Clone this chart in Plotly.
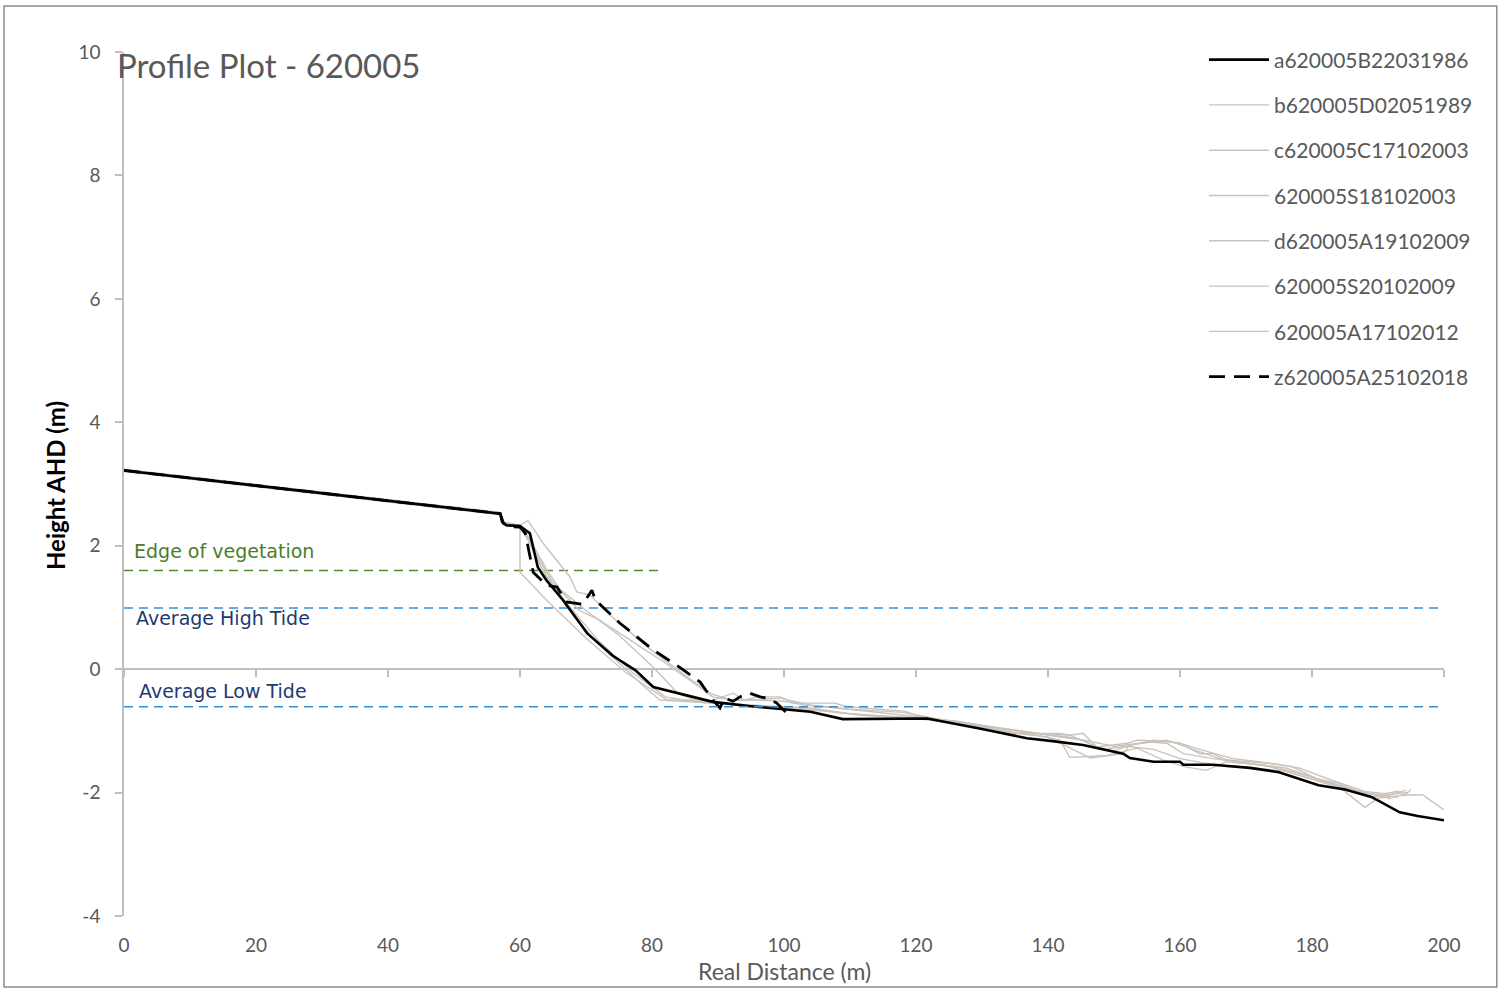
import plotly.graph_objects as go

# ---------------- data ----------------
a_x = [0, 57, 57.3, 58, 60, 61.5, 62.7, 64, 66.5, 70.2, 74, 77.5, 80.2, 85, 89.2, 95, 100, 104, 108.9, 121.7, 130, 136.8, 141, 145.3, 151.4, 152.4, 156, 160, 160.5, 165, 170.6, 175, 181, 185, 189, 193.3, 196, 200]
a_y = [3.22, 2.52, 2.38, 2.33, 2.32, 2.2, 1.65, 1.44, 1.12, 0.58, 0.22, -0.02, -0.29, -0.42, -0.53, -0.6, -0.65, -0.69, -0.81, -0.80, -0.97, -1.12, -1.17, -1.23, -1.37, -1.44, -1.5, -1.5, -1.55, -1.55, -1.6, -1.67, -1.88, -1.95, -2.07, -2.32, -2.38, -2.45]

b_x = [0, 57, 57.5, 60, 61.2, 63.5, 67.6, 68.6, 70.6, 74, 80, 85, 89, 92, 95, 99.5, 102.4, 107.7, 109.5, 118.3, 121.7, 125.6, 134.7, 141.8, 143.3, 145.3, 147.4, 152, 153.5, 158, 160, 163, 165, 167, 174, 177, 180.6, 184, 189, 191.7, 194.3]
b_y = [3.24, 2.54, 2.38, 2.33, 2.41, 2.04, 1.49, 1.25, 1.2, 0.84, 0.3, -0.1, -0.4, -0.5, -0.5, -0.47, -0.55, -0.55, -0.61, -0.68, -0.81, -0.84, -1.04, -1.04, -1.07, -1.04, -1.26, -1.2, -1.15, -1.17, -1.2, -1.37, -1.37, -1.47, -1.53, -1.58, -1.77, -1.85, -2.07, -2.04, -1.96]

c_x = [0, 57, 57.5, 60, 60, 64, 70, 76, 82.3, 86, 90, 94, 98, 104, 110, 120, 126, 135, 141.8, 143.3, 148.9, 153.5, 157.4, 160.6, 164, 167, 173, 179, 184, 188, 190, 194.3, 196.8, 200]
c_y = [3.2, 2.5, 2.36, 2.33, 1.57, 1.12, 0.5, -0.05, -0.5, -0.5, -0.55, -0.58, -0.6, -0.63, -0.72, -0.8, -0.84, -1.0, -1.15, -1.43, -1.4, -1.28, -1.47, -1.58, -1.64, -1.5, -1.56, -1.75, -1.9, -2.24, -2.09, -2.04, -2.04, -2.28]

s18_x = [0, 57, 57.5, 60, 61, 62.5, 64, 66, 68, 71, 75, 79, 81.2, 85, 89, 93, 97, 101, 106, 112, 120, 128, 136, 140, 146.4, 151.4, 152.4, 155.5, 158, 160.5, 165, 170, 176, 182, 188, 192]
s18_y = [3.22, 2.52, 2.38, 2.32, 2.15, 1.8, 1.5, 1.2, 0.88, 0.5, 0.1, -0.3, -0.5, -0.52, -0.55, -0.58, -0.6, -0.64, -0.68, -0.75, -0.8, -0.9, -1.05, -1.1, -1.44, -1.37, -1.23, -1.18, -1.2, -1.37, -1.45, -1.52, -1.6, -1.82, -2.0, -2.1]

d_x = [0, 57, 57.5, 60, 62, 64, 66, 70, 75, 80, 84, 88, 92.3, 94, 96, 99.4, 100.5, 104, 110, 118, 124, 132, 138.8, 143.3, 147.4, 150, 153, 156, 160, 163, 168, 172, 178, 183, 188, 191, 193, 194, 195]
d_y = [3.22, 2.52, 2.38, 2.32, 2.0, 1.62, 1.3, 0.95, 0.55, 0.05, -0.4, -0.55, -0.39, -0.5, -0.45, -0.45, -0.5, -0.58, -0.65, -0.7, -0.82, -0.95, -1.04, -1.07, -1.26, -1.32, -1.22, -1.15, -1.2, -1.3, -1.45, -1.5, -1.6, -1.8, -1.98, -2.02, -1.98, -2.05, -1.95]

s20_x = [0, 57, 57.5, 60, 61.5, 63, 65, 68, 72, 77, 82, 86, 89.5, 93, 97, 101, 105, 110, 115, 122, 130, 138, 143, 147, 150, 154, 158, 162, 166, 170, 175, 180, 186, 190, 194.5]
s20_y = [3.23, 2.53, 2.37, 2.33, 2.1, 1.7, 1.35, 0.95, 0.45, -0.05, -0.45, -0.52, -0.55, -0.58, -0.6, -0.62, -0.66, -0.72, -0.76, -0.8, -0.92, -1.04, -1.1, -1.18, -1.25, -1.2, -1.15, -1.3, -1.45, -1.52, -1.6, -1.75, -1.95, -2.05, -2.0]

a12_x = [0, 57, 57.5, 60, 62, 65, 69, 72, 77, 82, 86, 89.2, 92, 96, 100, 103, 108, 114, 121, 128, 136, 141.8, 145.3, 148, 152, 156, 160, 165, 170, 176, 182, 188, 193]
a12_y = [3.21, 2.51, 2.36, 2.31, 1.95, 1.4, 0.95, 0.8, 0.45, 0.1, -0.2, -0.45, -0.5, -0.5, -0.52, -0.58, -0.63, -0.7, -0.78, -0.88, -1.0, -1.1, -1.15, -1.3, -1.25, -1.3, -1.45, -1.55, -1.6, -1.65, -1.85, -2.0, -2.08]

z_x = [0, 57, 57.5, 58.5, 60, 60.8, 62, 64, 65.6, 67, 69.5, 70.9, 71.4, 75.2, 80.2, 84.2, 87.3, 89.2, 90.3, 91, 92.3, 93.3, 94.8, 96.4, 97.4, 98.9, 100.4]
z_y = [3.22, 2.52, 2.36, 2.31, 2.3, 2.2, 1.57, 1.36, 1.33, 1.09, 1.05, 1.28, 1.12, 0.74, 0.31, 0.03, -0.21, -0.5, -0.63, -0.47, -0.52, -0.45, -0.39, -0.45, -0.47, -0.55, -0.71]

veg_x = [0, 81.5]
veg_y = [1.6, 1.6]
high_x = [0, 200.5]
high_y = [0.99, 0.99]
low_x = [0, 200.5]
low_y = [-0.61, -0.61]

x_ticks = [0, 20, 40, 60, 80, 100, 120, 140, 160, 180, 200]
y_ticks = [-4, -2, 0, 2, 4, 6, 8, 10]
y_tick_text = ["-4", "-2", "0", "2", "4", "6", "8", "10"]

GRAY = "#cbc3bb"
TXT = "#595959"
AXC = "#bfbfbf"

fig = go.Figure()

# reference lines (not in legend)
fig.add_trace(go.Scatter(x=veg_x, y=veg_y, mode="lines", showlegend=False, hoverinfo="skip",
                         line=dict(color="#4f8a2d", width=1.5, dash="9px,6px")))
fig.add_trace(go.Scatter(x=high_x, y=high_y, mode="lines", showlegend=False, hoverinfo="skip",
                         line=dict(color="#3a8fd3", width=1.5, dash="9px,6px"), cliponaxis=False))
fig.add_trace(go.Scatter(x=low_x, y=low_y, mode="lines", showlegend=False, hoverinfo="skip",
                         line=dict(color="#3a8fd3", width=1.5, dash="9px,6px"), xaxis="x2", cliponaxis=False))

series = [
    ("a620005B22031986", a_x, a_y, dict(color="black", width=2.6)),
    ("b620005D02051989", b_x, b_y, dict(color=GRAY, width=1.4)),
    ("c620005C17102003", c_x, c_y, dict(color=GRAY, width=1.4)),
    ("620005S18102003", s18_x, s18_y, dict(color=GRAY, width=1.4)),
    ("d620005A19102009", d_x, d_y, dict(color=GRAY, width=1.4)),
    ("620005S20102009", s20_x, s20_y, dict(color=GRAY, width=1.4)),
    ("620005A17102012", a12_x, a12_y, dict(color=GRAY, width=1.4)),
    ("z620005A25102018", z_x, z_y, dict(color="black", width=2.8, dash="16px,9px")),
]
# draw gray first so black lies on top, but keep legend order
order = [1, 2, 3, 4, 5, 6, 0, 7]
for i in order:
    name, xs, ys, ln = series[i]
    fig.add_trace(go.Scatter(x=xs, y=ys, mode="lines", name=name, line=ln,
                             legendrank=i + 1, legendgroup=name))

fig.add_annotation(x=1.2, y=1.91, xref="x", yref="y", text="Edge of vegetation", showarrow=False,
                   xanchor="left", yanchor="middle", font=dict(family="DejaVu Sans", size=19, color="#4b7d2b"))
fig.add_annotation(x=1.5, y=0.83, xref="x", yref="y", text="Average High Tide", showarrow=False,
                   xanchor="left", yanchor="middle", font=dict(family="DejaVu Sans", size=19, color="#1f3a70"))
fig.add_annotation(x=2.0, y=-0.35, xref="x", yref="y", text="Average Low Tide", showarrow=False,
                   xanchor="left", yanchor="middle", font=dict(family="DejaVu Sans", size=19, color="#1f3a70"))

# axis titles
fig.add_annotation(x=0.5, y=-0.064, xref="paper", yref="paper", text="Real Distance (m)", showarrow=False,
                   xanchor="center", yanchor="middle", font=dict(family="Lato", size=23, color=TXT))
fig.add_annotation(x=-0.0523, y=0.4988, xref="paper", yref="paper",
                   text="<b>Height AHD (m)</b>", textangle=-90, showarrow=False,
                   xanchor="center", yanchor="middle", font=dict(family="Lato", size=24, color="black"))

# outer border
fig.add_shape(type="rect", xref="paper", yref="paper", x0=-0.0909, x1=1.040, y0=-0.0822, y1=1.0532,
              line=dict(color="#8c8c8c", width=1.5), fillcolor="rgba(0,0,0,0)", layer="below")

fig.update_layout(
    width=1501, height=989,
    margin=dict(l=124, r=57, t=52, b=73),
    paper_bgcolor="white", plot_bgcolor="white",
    font=dict(family="Lato", color=TXT),
    title=dict(text="Profile Plot - 620005", x=117 / 1501, xref="container", xanchor="left",
               y=1 - 66 / 989, yref="container", yanchor="middle",
               font=dict(family="Lato", size=33, color=TXT)),
    showlegend=True,
    legend=dict(x=(1204 - 124) / 1320, y=1.0145, xanchor="left", yanchor="top",
                font=dict(family="Lato", size=21, color=TXT), tracegroupgap=15,
                bgcolor="rgba(0,0,0,0)", itemwidth=60),
    xaxis=dict(range=[0, 200], tickvals=x_ticks, showline=False, showgrid=False, zeroline=False,
               ticks="", tickfont=dict(size=19, color=TXT), ticklabelstandoff=16),
    xaxis2=dict(overlaying="x", matches="x", anchor="free", position=4 / 14, tickvals=x_ticks,
                showticklabels=False, ticks="outside", ticklen=7, tickcolor=AXC, tickwidth=1.5,
                showline=False, showgrid=False, zeroline=False),
    yaxis=dict(range=[-4, 10], tickvals=y_ticks, ticktext=y_tick_text, showline=True, linecolor=AXC,
               linewidth=1.5, ticks="outside", ticklen=7, tickcolor=AXC, tickwidth=1.5, showgrid=False,
               zeroline=True, zerolinecolor=AXC, zerolinewidth=1.5,
               tickfont=dict(size=19, color=TXT), ticklabelstandoff=11),
)

fig.write_html("out.html", config={"displayModeBar": False},
               post_script="document.body.style.margin='0';document.body.style.overflow='hidden';")
